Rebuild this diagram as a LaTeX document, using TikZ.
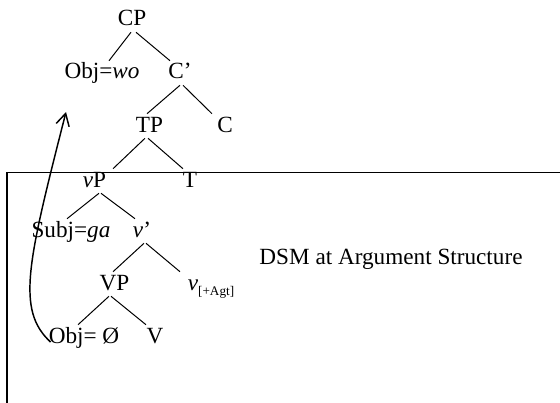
\documentclass[tikz,border=0pt]{standalone}
\usepackage{fontspec}
\setmainfont{Liberation Serif}
\usetikzlibrary{arrows.meta,calc}

\begin{document}
\begin{tikzpicture}[x=0.75pt, y=-0.75pt, font=\fontsize{17.4}{20}\selectfont,
  every node/.style={anchor=base, inner sep=0pt, text height=13.5pt, text depth=4.5pt},
  branch/.style={line width=0.75pt}]
  % canvas in px (560 x 403), y runs downward
  \useasboundingbox (0,0) rectangle (560,403);

  % CP layer
  \node (CP) at (132,26) {CP};
  \node (Objwo) at (102,79) {Obj=\textit{wo}};
  \node (Cbar) at (180,79) {C’};
  \node (TP) at (149.5,132) {TP};
  \node (C) at (225,132) {C};

  % vP layer
  \node (vP) at (94.5,187) {\textit{v}P};
  \node (T) at (190,187) {T};
  \node (Subj) at (71,237) {Subj=\textit{ga}};
  \node (vbar) at (142,237) {\textit{v}’};
  \node (VP) at (114.5,290) {VP};
  \node (vAgt) at (211,290) {\textit{v}\raisebox{-3.75pt}{\fontsize{9.9}{11}\selectfont[+Agt]}};
  \node (ObjNull) at (84,343) {Obj= Ø};
  \node (V) at (155,343) {V};

  \node (DSM) at (391,264) {DSM at Argument Structure};

  % branches
  \draw[branch] ($(CP.south)+(-1,0)$) -- ($(Objwo.north)+(7,0)$);
  \draw[branch] ($(CP.south)+(4,0)$) -- ($(Cbar.north)+(-10,0)$);
  \draw[branch] (Cbar.south) -- ($(TP.north)+(-2.5,0)$);
  \draw[branch] ($(Cbar.south)+(3,0)$) -- ($(C.north)+(-13,0)$);
  \draw[branch] ($(TP.south)+(-4.5,0)$) -- ($(vP.north)+(18.5,0)$);
  \draw[branch] ($(TP.south)+(-1.5,0)$) -- ($(T.north)+(-7,0)$);
  \draw[branch] ($(vP.south)+(4.5,0)$) -- ($(Subj.north)+(-4,0)$);
  \draw[branch] ($(vP.south)+(6.5,0)$) -- ($(vbar.north)+(-7,0)$);
  \draw[branch] ($(vbar.south)+(2,0)$) -- ($(VP.north)+(-1.5,0)$);
  \draw[branch] ($(vbar.south)+(4,0)$) -- ($(vAgt.north)+(-31,0)$);
  \draw[branch] ($(VP.south)+(-5.5,0)$) -- ($(ObjNull.north)+(-6,0)$);
  \draw[branch] ($(VP.south)+(-3.5,0)$) -- ($(V.north)+(-9,0)$);

  % box round the argument structure (runs off the page)
  \draw[line width=0.8pt] (560,172.5) -- (7,172.5) -- (7,403);

  % movement of the object
  \coordinate (landing) at (66,112);
  \draw[-{Straight Barb[length=9pt,width=10pt]}, line width=1.1pt]
    ($(ObjNull.west)+(2,5)$) .. controls (16,310) and (27.5,263) .. (landing);
\end{tikzpicture}
\end{document}
